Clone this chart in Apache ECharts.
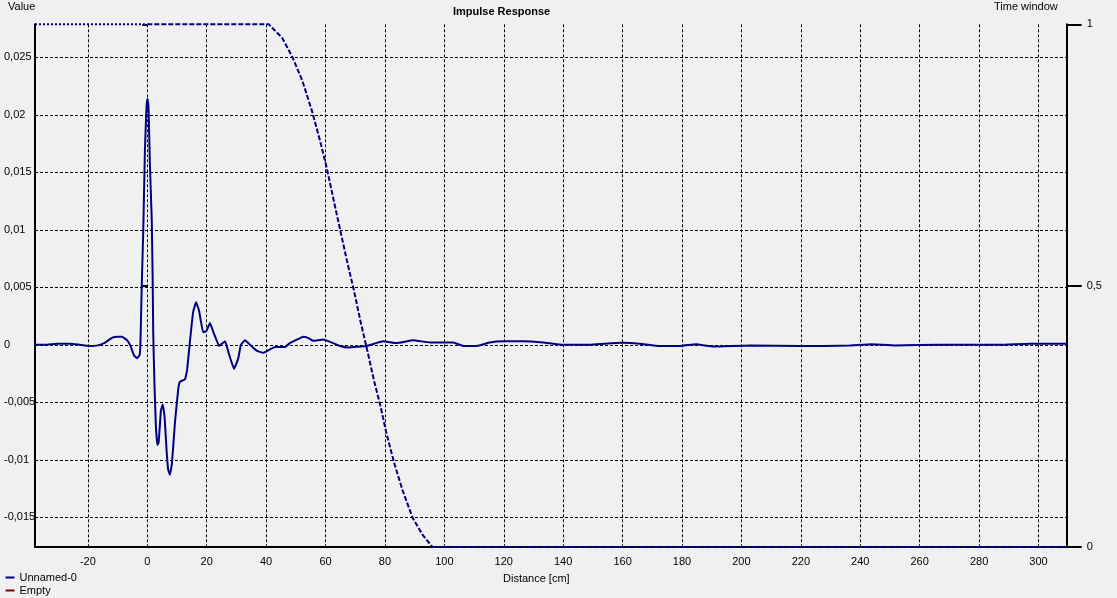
<!DOCTYPE html>
<html>
<head>
<meta charset="utf-8">
<script src="https://cdn.jsdelivr.net/npm/echarts@6/dist/echarts.min.js"></script>
<style>
html,body{margin:0;padding:0;background:#f0f0f0;}
#c{width:1117px;height:598px;}
</style>
</head>
<body>
<div id="c"></div>
<script>
// Impulse response: distance [cm]
const irDistance = [-37.8,-34.4,-30.4,-26.0,-22.7,-19.3,-16.6,-14.2,-11.9,-10.2,-8.5,-6.8,-5.5,-4.5,-3.5,-2.6,-2.3,-1.9,-1.35,-0.8,-0.3,0.05,0.4,0.9,1.5,1.8,2.0,2.4,2.9,3.4,3.8,4.1,4.6,5.2,5.8,6.5,7.0,7.6,8.3,9.3,10.4,11.0,12.7,13.4,14.4,15.4,16.4,17.4,18.8,19.9,21.1,22.4,24.2,25.1,26.2,27.5,29.2,30.6,31.5,32.9,34.6,36.8,39.0,41.3,43.0,46.3,48.0,50.8,52.5,54.1,55.9,59.2,62.6,64.9,67.7,73.8,79.4,83.9,89.5,95.2,103.0,106.4,110.9,115.3,119.8,126.6,133.3,140.0,149.0,154.0,160.1,165.8,172.6,179.3,184.7,190.7,202.9,219.7,228.1,236.5,244.0,251.6,266.8,287.0,297.1,309.5];
// Impulse response: value
const irValue = [0,0,0.0001,0.0001,0,-0.0001,-0.00005,0.0002,0.0006,0.0007,0.0007,0.0004,-0.0002,-0.0009,-0.00116,-0.0009,0.0002,0.0048,0.010,0.0169,0.0205,0.0214,0.0208,0.0155,0.0109,0.0059,0.001,-0.0033,-0.0071,-0.0087,-0.0085,-0.0075,-0.0057,-0.0052,-0.0062,-0.0092,-0.0108,-0.0113,-0.0103,-0.0068,-0.0039,-0.0032,-0.0030,-0.0022,0.0004,0.0028,0.0037,0.0030,0.0011,0.0012,0.0019,0.0010,-0.0001,0.0001,0.0003,-0.0008,-0.0021,-0.0012,0.0000,0.0004,0.0000,-0.0005,-0.0007,-0.0004,-0.0002,-0.0002,0.00015,0.0005,0.0007,0.0006,0.00035,0.00046,0.00015,-0.0001,-0.00023,-0.0001,0.0003,0.00015,0.0004,0.0002,0.0002,-0.0001,-0.0001,0.0002,0.0003,0.0003,0.0002,0,0,0.0001,0.00017,0.0001,-0.0001,-0.0001,0.00005,-0.00015,-0.00005,-0.0001,-0.0001,-0.00005,0.00005,-0.00005,0,0,0.0001,0.0001];
// Time window (pre-zero part, dotted)
const winPreDistance = [-37.8, 0];
const winPreValue = [1, 1];
// Time window (dashed part)
const winDistance = [0,40.9,45.4,48.8,52.2,55.5,58.3,60.3,62.8,65.1,67.4,69.6,71.8,74.1,76.3,78.6,80.4,83.1,85.9,89.3,92.7,96.0,309.5];
const winValue = [1,1,0.974,0.938,0.892,0.833,0.774,0.728,0.662,0.602,0.543,0.49,0.431,0.375,0.319,0.267,0.22,0.161,0.109,0.056,0.023,0,0];
// Tick values
const xTicks = [-20,0,20,40,60,80,100,120,140,160,180,200,220,240,260,280,300];
const yTicks = [-0.015,-0.01,-0.005,0,0.005,0.01,0.015,0.02,0.025];
const winTicks = [0, 0.5, 1];

const FONT = '"Liberation Sans", Arial, sans-serif';
const fmt = v => String(Number(Number(v).toPrecision(6))).replace('.', ',');
const zip = (a, b) => a.map((x, i) => [x, b[i]]);

const chart = echarts.init(document.getElementById('c'), null, {renderer: 'canvas'});
chart.setOption({
  backgroundColor: '#f0f0f0',
  animation: false,
  textStyle: {fontFamily: FONT, fontSize: 11, color: '#000'},
  grid: {left: 35, right: 50.3, top: 24.3, bottom: 51, containLabel: false},
  legend: {
    data: ['Unnamed-0', 'Empty'],
    orient: 'vertical', left: 5.5, top: 572,
    itemWidth: 9, itemHeight: 2, itemGap: 2, icon: 'rect',
    padding: 0,
    textStyle: {fontFamily: FONT, fontSize: 11, color: '#000'},
    selectedMode: false
  },
  graphic: [
    {type: 'text', left: 502 - 49, top: 6, style: {text: 'Impulse Response', font: 'bold 11px ' + FONT, fill: '#000'}},
    {type: 'text', left: 8, top: 1, style: {text: 'Value', font: '11px ' + FONT, fill: '#000'}},
    {type: 'text', left: 994, top: 1, style: {text: 'Time window', font: '11px ' + FONT, fill: '#000'}},
    {type: 'text', left: 503, top: 573, style: {text: 'Distance [cm]', font: '11px ' + FONT, fill: '#000'}}
  ],
  xAxis: {
    type: 'value', min: -37.8, max: 309.5,
    axisLine: {show: true, onZero: false, lineStyle: {color: '#000', width: 2}},
    axisTick: {show: false, customValues: xTicks},
    axisLabel: {customValues: xTicks, formatter: fmt, margin: 9, color: '#000', fontFamily: FONT, fontSize: 11},
    splitLine: {show: true, lineStyle: {color: '#000', width: 1, type: [3, 2]}}
  },
  yAxis: [
    {
      type: 'value', position: 'left', min: -0.01758, max: 0.02787,
      axisLine: {show: true, onZero: false, lineStyle: {color: '#000', width: 2}},
      axisTick: {show: false, customValues: yTicks},
      axisLabel: {customValues: yTicks, formatter: fmt, align: 'left', margin: 31, color: '#000', fontFamily: FONT, fontSize: 11},
      splitLine: {show: true, lineStyle: {color: '#000', width: 1, type: [3, 2]}}
    },
    {
      type: 'value', position: 'right', min: 0, max: 1, interval: 0.5,
      axisLine: {show: true, onZero: false, lineStyle: {color: '#000', width: 2}},
      axisTick: {show: true, inside: false, length: 15, lineStyle: {color: '#000', width: 2}},
      axisLabel: {formatter: fmt, margin: 20, color: '#000', fontFamily: FONT, fontSize: 11},
      splitLine: {show: false}
    },
    {
      type: 'value', position: 'right', min: 0, max: 1, interval: 0.5,
      axisLine: {show: false},
      axisTick: {show: true, inside: true, length: 5, lineStyle: {color: '#000', width: 2}},
      axisLabel: {show: false},
      splitLine: {show: false}
    }
  ],
  series: [
    {
      name: 'Empty', type: 'line', data: [], color: '#800000', showSymbol: false
    },
    {
      name: 'Time window pre', type: 'line', yAxisIndex: 1, data: zip(winPreDistance, winPreValue),
      showSymbol: false, clip: false, color: '#000080',
      lineStyle: {color: '#000080', width: 2, type: [2, 2]}, z: 5
    },
    {
      name: 'Time window', type: 'line', yAxisIndex: 1, data: zip(winDistance, winValue),
      showSymbol: false, clip: false, color: '#000080',
      lineStyle: {color: '#000080', width: 2, type: [5, 2]}, z: 5
    },
    {
      name: 'Unnamed-0', type: 'line', data: zip(irDistance, irValue),
      showSymbol: false, color: '#000080', smooth: 0.1,
      lineStyle: {color: '#000080', width: 2}, z: 6
    }
  ]
});
</script>
</body>
</html>
